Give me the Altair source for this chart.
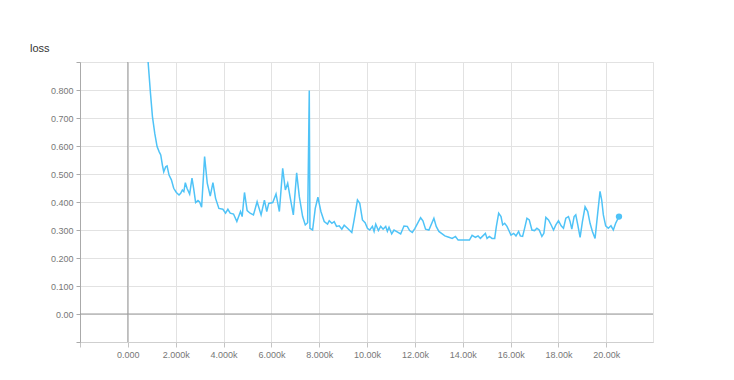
import altair as alt
import pandas as pd

steps = [500, 700, 846, 946, 1028, 1125, 1222, 1306, 1375, 1444, 1500, 1583, 1639, 1722, 1820, 1917,
         2028, 2139, 2208, 2278, 2340, 2403, 2472, 2583, 2681, 2750, 2833, 2931, 3000, 3083, 3208,
         3319, 3444, 3556, 3667, 3806, 3972, 4083, 4181, 4278, 4417, 4556, 4708, 4778, 4875, 4986,
         5111, 5250, 5403, 5569, 5708, 5806, 5889, 6056, 6194, 6333, 6472, 6583, 6681, 6778, 6917,
         7056, 7167, 7306, 7417, 7514, 7583, 7611, 7722, 7833, 7944, 8069, 8208, 8347, 8417, 8528,
         8625, 8722, 8833, 8944, 9042, 9181, 9361, 9458, 9597, 9694, 9806, 9917, 10014, 10111,
         10222, 10292, 10361, 10472, 10569, 10667, 10778, 10847, 10917, 11028, 11125, 11222, 11403,
         11542, 11681, 11778, 11889, 12000, 12236, 12333, 12444, 12583, 12792, 12889, 13000, 13139,
         13250, 13417, 13556, 13694, 13806, 13972, 14139, 14278, 14389, 14528, 14639, 14736, 14944,
         15014, 15111, 15222, 15333, 15403, 15500, 15597, 15667, 15750, 15847, 15917, 16014, 16125,
         16222, 16333, 16403, 16500, 16583, 16681, 16778, 16889, 17000, 17097, 17194, 17306, 17389,
         17472, 17583, 17694, 17792, 17889, 18000, 18111, 18208, 18306, 18417, 18486, 18556, 18653,
         18722, 18806, 18903, 19000, 19111, 19222, 19319, 19417, 19528, 19639, 19736, 19806, 19875,
         19972, 20083, 20194, 20292, 20389, 20528]
loss = [1.30, 1.05, 0.901, 0.788, 0.705, 0.645, 0.598, 0.58, 0.568, 0.532, 0.508, 0.526, 0.529, 0.496,
        0.479, 0.449, 0.434, 0.425, 0.431, 0.443, 0.437, 0.469, 0.449, 0.428, 0.485, 0.449, 0.398,
        0.405, 0.40, 0.381, 0.562, 0.467, 0.421, 0.469, 0.413, 0.377, 0.374, 0.36, 0.374, 0.36,
        0.357, 0.33, 0.366, 0.348, 0.434, 0.369, 0.36, 0.354, 0.401, 0.354, 0.407, 0.366, 0.395,
        0.398, 0.429, 0.366, 0.52, 0.443, 0.467, 0.419, 0.354, 0.504, 0.419, 0.348, 0.318, 0.326,
        0.798, 0.306, 0.30, 0.377, 0.417, 0.366, 0.33, 0.321, 0.333, 0.324, 0.33, 0.313, 0.315,
        0.303, 0.317, 0.306, 0.291, 0.336, 0.407, 0.395, 0.336, 0.326, 0.306, 0.30, 0.313, 0.295,
        0.321, 0.298, 0.313, 0.303, 0.313, 0.295, 0.31, 0.286, 0.30, 0.295, 0.286, 0.314, 0.313,
        0.298, 0.291, 0.306, 0.344, 0.333, 0.303, 0.30, 0.342, 0.313, 0.295, 0.286, 0.279, 0.274,
        0.27, 0.277, 0.264, 0.264, 0.264, 0.264, 0.281, 0.274, 0.279, 0.27, 0.288, 0.27, 0.277,
        0.27, 0.27, 0.313, 0.36, 0.348, 0.318, 0.324, 0.313, 0.30, 0.282, 0.288, 0.279, 0.295,
        0.279, 0.277, 0.306, 0.342, 0.336, 0.30, 0.298, 0.306, 0.30, 0.277, 0.288, 0.345, 0.336,
        0.318, 0.30, 0.318, 0.333, 0.315, 0.306, 0.342, 0.348, 0.33, 0.303, 0.348, 0.354, 0.318,
        0.274, 0.33, 0.383, 0.366, 0.324, 0.295, 0.27, 0.36, 0.438, 0.407, 0.354, 0.315, 0.306,
        0.315, 0.30, 0.324, 0.348]

x_ticks = [-2000, 0, 2000, 4000, 6000, 8000, 10000, 12000, 14000, 16000, 18000, 20000]
y_ticks = [-0.1, 0.0, 0.1, 0.2, 0.3, 0.4, 0.5, 0.6, 0.7, 0.8, 0.9]
title_text = "loss"

df = pd.DataFrame({"step": steps, "loss": loss})
last = df.tail(1)
zero = pd.DataFrame({"v": [0]})

FONT = "Liberation Sans"
LINE = "#4fc3f7"

x_label = ("datum.value < 0 ? '' : datum.value == 0 ? '0.000' : datum.value < 10000 ? "
           "format(datum.value / 1000, '.3f') + 'k' : format(datum.value / 1000, '.2f') + 'k'")
y_label = ("datum.value < -0.05 || datum.value > 0.85 ? '' : abs(datum.value) < 0.001 ? '0.00' : "
           "format(datum.value, '.3f')")

xscale = alt.Scale(domain=[-2000, 21950], nice=False, zero=False)
yscale = alt.Scale(domain=[-0.1, 0.9], nice=False, zero=False)

xaxis = alt.Axis(values=x_ticks, tickCount=30, labelExpr=x_label, title=None, grid=True,
                 gridColor="#e2e2e2", domainColor="#cfcfcf", tickColor="#c4c4c4", tickSize=5,
                 labelPadding=3, labelFont=FONT, labelFontSize=9, labelColor="#777777",
                 labelFlush=False, labelOverlap=False)
yaxis = alt.Axis(values=y_ticks, tickCount=30, labelExpr=y_label, title=None, grid=True,
                 gridColor="#e2e2e2", domainColor="#aaaaaa", tickColor="#aaaaaa", tickSize=4,
                 labelPadding=3, labelFont=FONT, labelFontSize=9, labelColor="#777777",
                 labelFlush=False, labelOverlap=False)

line = alt.Chart(df).mark_line(color=LINE, strokeWidth=1.5, clip=True).encode(
    x=alt.X("step:Q", scale=xscale, axis=xaxis),
    y=alt.Y("loss:Q", scale=yscale, axis=yaxis),
)
dot = alt.Chart(last).mark_circle(color=LINE, size=40, opacity=1).encode(
    x=alt.X("step:Q", scale=xscale),
    y=alt.Y("loss:Q", scale=yscale),
)
vzero = alt.Chart(zero).mark_rule(color="#999999", strokeWidth=1).encode(
    x=alt.X("v:Q", scale=xscale))
hzero = alt.Chart(zero).mark_rule(color="#999999", strokeWidth=1).encode(
    y=alt.Y("v:Q", scale=yscale))
title = alt.Chart(zero).mark_text(align="left", baseline="alphabetic", font=FONT, fontSize=11,
                                  color="#333333").encode(
    x=alt.value(-50), y=alt.value(-10), text=alt.value(title_text))

chart = alt.layer(vzero, hzero, line, dot, title).properties(
    width=573, height=280,
    autosize=alt.AutoSizeParams(type="none"),
    padding={"left": 72, "top": 54, "right": 73, "bottom": 30},
).configure_view(stroke="#e2e2e2")

chart.save("out.html", embed_options={"renderer": "svg", "actions": False})
